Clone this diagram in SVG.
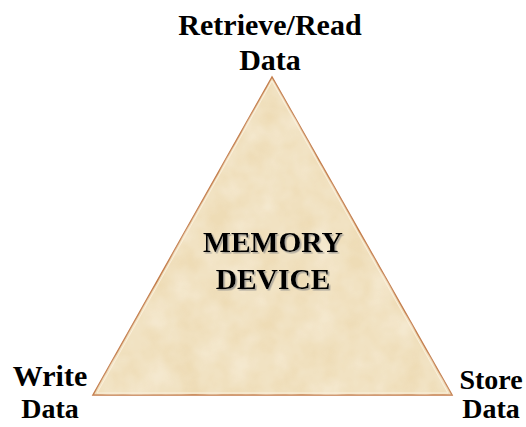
<svg xmlns="http://www.w3.org/2000/svg" width="526" height="427" viewBox="0 0 526 427">
<style>
.lbl{font-family:"Liberation Serif","Times New Roman",serif;font-weight:bold;font-size:30px;fill:#000;text-anchor:middle}
.sm{font-size:28px}
.ctr{font-family:"Liberation Serif","Times New Roman",serif;font-weight:bold;font-size:29.5px;fill:#000;text-anchor:middle}
</style>
<defs>
<filter id="parch" x="0" y="0" width="1" height="1">
<feTurbulence type="fractalNoise" baseFrequency="0.035" numOctaves="3" seed="4" result="n"/>
<feColorMatrix in="n" type="matrix" values="0 0 0 0 0.94  0 0 0 0 0.87  0 0 0 0 0.73  0 0 0 -1.4 1.1" result="c"/>
<feComposite in="c" in2="SourceGraphic" operator="in"/>
</filter>
<filter id="sh" x="-10%" y="-10%" width="120%" height="130%">
<feDropShadow dx="1.5" dy="1.5" stdDeviation="0.6" flood-color="#888" flood-opacity="0.7"/>
</filter>
</defs>
<rect width="526" height="427" fill="#fff"/>
<g id="device">
<polygon points="272,77 93,395 452,395" fill="#eedcb6" stroke="#c27a48" stroke-width="1.5"/>
<polygon points="272,77 93,395 452,395" fill="#f3e4c4" filter="url(#parch)" opacity="0.7"/>
<polygon points="272,81 97,393 448,393" fill="none" stroke="#fbf0dc" stroke-width="1"/>
<text class="ctr" x="273" y="252" filter="url(#sh)">MEMORY</text>
<text class="ctr" x="273" y="289" filter="url(#sh)">DEVICE</text>
</g>
<g id="read">
<text class="lbl" x="270" y="35">Retrieve/Read</text>
<text class="lbl" x="270" y="70">Data</text>
</g>
<g id="write">
<text class="lbl" x="50" y="386">Write</text>
<text class="lbl sm" x="50" y="418">Data</text>
</g>
<g id="store">
<text class="lbl sm" x="491" y="389">Store</text>
<text class="lbl sm" x="491" y="418">Data</text>
</g>
<g id="connectors"></g>
</svg>
